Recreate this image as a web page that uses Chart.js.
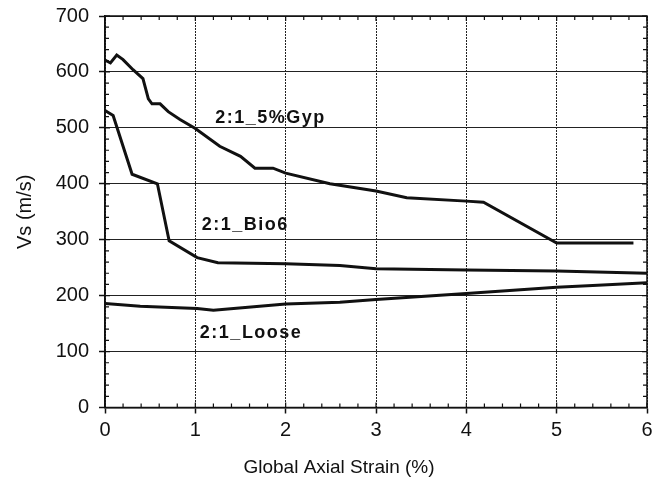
<!DOCTYPE html>
<html>
<head>
<meta charset="utf-8">
<script src="https://cdn.jsdelivr.net/npm/chart.js@4/dist/chart.umd.min.js"></script>
<style>
  html, body { margin: 0; padding: 0; background: #fff; }
  #wrap { width: 664px; height: 484px; }
</style>
</head>
<body>
<div id="wrap"><canvas id="vsChart"></canvas></div>
<script>
// Shear wave velocity vs. global axial strain
const gypStrain = [0, 0.06, 0.13, 0.2, 0.31, 0.42, 0.48, 0.52, 0.61, 0.70, 0.83, 1.0, 1.27, 1.5, 1.66, 1.86, 2.0, 2.49, 3.0, 3.34, 4.0, 4.19, 5.0, 5.85];
const gypVs     = [621, 616, 630, 622, 604, 588, 552, 543, 543, 529, 515, 499, 467, 449, 428, 428, 419, 400, 387, 375, 369, 367, 294, 294];

const bioStrain = [0, 0.09, 0.3, 0.58, 0.71, 1.02, 1.25, 2.0, 2.6, 3.0, 4.0, 5.0, 6.0];
const bioVs     = [531, 522, 417, 400, 298, 268, 259, 257, 254, 248, 246, 244, 240];

const looseStrain = [0, 0.39, 1.02, 1.2, 2.0, 2.6, 3.0, 4.0, 5.0, 5.4, 6.0];
const looseVs     = [186, 181, 177, 174, 185, 188, 193, 204, 215, 218, 223];

// curve labels: text, strain, Vs (left edge / middle)
const curveLabels = [
    { text: '2:1_5%Gyp', x: 1.22, y: 518 },
    { text: '2:1_Bio6',  x: 1.07, y: 326 },
    { text: '2:1_Loose', x: 1.05, y: 134 }
];

const xTitle = 'Global Axial Strain (%)';

const FONT = 'Arial, "Liberation Sans", sans-serif';

function toPoints(xs, ys) {
    return xs.map((x, i) => ({ x: x, y: ys[i] }));
}

function lineSet(label, xs, ys) {
    return {
        label: label,
        data: toPoints(xs, ys),
        borderColor: '#111',
        borderWidth: 3,
        pointRadius: 0,
        tension: 0,
        fill: false
    };
}

// frame, inner minor ticks, curve labels and the x axis title
const framePlugin = {
    id: 'frame',
    afterDraw(chart) {
        const ctx = chart.ctx;
        const a = chart.chartArea;
        const xs = chart.scales.x, ys = chart.scales.y;
        ctx.save();
        ctx.strokeStyle = '#111';
        ctx.lineWidth = 1.5;
        ctx.strokeRect(a.left, a.top, a.right - a.left, a.bottom - a.top);

        ctx.lineWidth = 1.2;
        ctx.beginPath();
        for (let i = 0; i <= 30; i++) {
            const px = xs.getPixelForValue(i * 0.2);
            const len = i % 5 === 0 ? 5 : 4;
            ctx.moveTo(px, a.bottom); ctx.lineTo(px, a.bottom - len);
            ctx.moveTo(px, a.top); ctx.lineTo(px, a.top + len);
        }
        for (let i = 0; i <= 35; i++) {
            const py = ys.getPixelForValue(i * 20);
            const len = i % 5 === 0 ? 5 : 4;
            ctx.moveTo(a.left, py); ctx.lineTo(a.left + len, py);
            ctx.moveTo(a.right, py); ctx.lineTo(a.right - len, py);
        }
        ctx.stroke();

        ctx.fillStyle = '#111';
        ctx.textBaseline = 'middle';

        // axis title sits a little left of the plot centre
        ctx.font = '19px ' + FONT;
        ctx.textAlign = 'center';
        ctx.fillText(xTitle, 339, 468);

        ctx.font = 'bold 18px ' + FONT;
        ctx.textAlign = 'left';
        if ('letterSpacing' in ctx) ctx.letterSpacing = '1.5px';
        curveLabels.forEach(l => {
            ctx.fillText(l.text, xs.getPixelForValue(l.x), ys.getPixelForValue(l.y));
        });
        ctx.restore();
    }
};

new Chart(document.getElementById('vsChart'), {
    type: 'line',
    data: {
        datasets: [
            lineSet('2:1_5%Gyp', gypStrain, gypVs),
            lineSet('2:1_Bio6', bioStrain, bioVs),
            lineSet('2:1_Loose', looseStrain, looseVs)
        ]
    },
    options: {
        responsive: true,
        maintainAspectRatio: false,
        animation: false,
        layout: { padding: { top: 16, right: 17, bottom: 0, left: 0 } },
        plugins: {
            legend: { display: false },
            tooltip: { enabled: false }
        },
        scales: {
            x: {
                type: 'linear',
                min: 0,
                max: 6,
                afterFit: s => { s.height = 76.5; s.paddingLeft = 0; s.paddingRight = 0; },
                ticks: {
                    stepSize: 1,
                    color: '#111',
                    padding: 5,
                    maxRotation: 0,
                    font: { family: FONT, size: 20 }
                },
                grid: { color: '#222', lineWidth: 1, tickLength: 6, tickColor: '#111', tickWidth: 1.5 },
                border: { color: '#111', width: 1.5, dash: [2, 1] }
            },
            y: {
                min: 0,
                max: 700,
                afterFit: s => { s.width = 105; s.paddingTop = 0; s.paddingBottom = 0; },
                ticks: {
                    stepSize: 100,
                    color: '#111',
                    padding: 10,
                    font: { family: FONT, size: 20 }
                },
                grid: { color: '#222', lineWidth: 1, tickLength: 6, tickColor: '#111', tickWidth: 1.5 },
                border: { color: '#111', width: 1.5 },
                title: {
                    display: true,
                    text: 'Vs (m/s)',
                    color: '#111',
                    padding: { top: 13, bottom: 4 },
                    font: { family: FONT, size: 20 }
                }
            }
        }
    },
    plugins: [framePlugin]
});
</script>
</body>
</html>
